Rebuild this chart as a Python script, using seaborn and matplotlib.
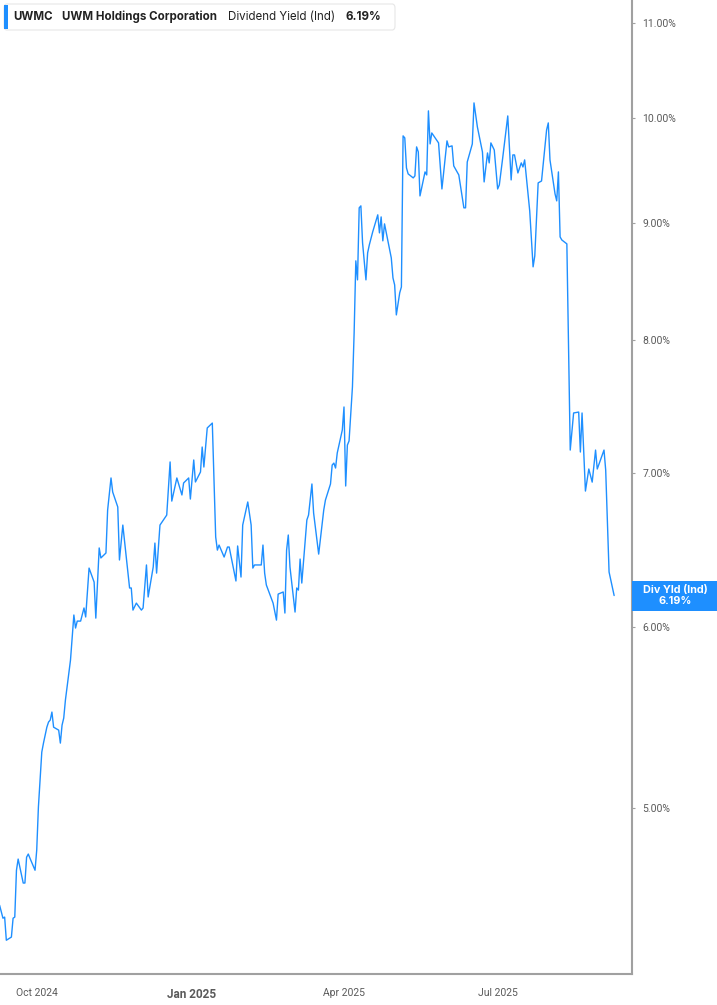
import matplotlib
matplotlib.use("Agg")
import matplotlib.pyplot as plt
import matplotlib.dates as mdates
import matplotlib.transforms as mtransforms
from matplotlib.patches import Rectangle, FancyBboxPatch
from matplotlib.ticker import FixedLocator, NullLocator
import numpy as np
import pandas as pd
import seaborn as sns

ticker = "UWMC"
company = "UWM Holdings Corporation"
metric = "Dividend Yield (Ind)"
short_metric = "Div Yld (Ind)"

dates = [
    "2024-09-09", "2024-09-11", "2024-09-12", "2024-09-13", "2024-09-16", "2024-09-17",
    "2024-09-18", "2024-09-19", "2024-09-20", "2024-09-23", "2024-09-24", "2024-09-25",
    "2024-09-26", "2024-09-27", "2024-09-30", "2024-10-01", "2024-10-02", "2024-10-04",
    "2024-10-05", "2024-10-07", "2024-10-08", "2024-10-09", "2024-10-10", "2024-10-11",
    "2024-10-14", "2024-10-15", "2024-10-16", "2024-10-17", "2024-10-18", "2024-10-21",
    "2024-10-23", "2024-10-24", "2024-10-25", "2024-10-27", "2024-10-29", "2024-10-30",
    "2024-11-01", "2024-11-04", "2024-11-05", "2024-11-07", "2024-11-08", "2024-11-11",
    "2024-11-12", "2024-11-14", "2024-11-15", "2024-11-18", "2024-11-19", "2024-11-21",
    "2024-11-23", "2024-11-25", "2024-11-26", "2024-11-27", "2024-11-29", "2024-12-02",
    "2024-12-03", "2024-12-05", "2024-12-06", "2024-12-09", "2024-12-10", "2024-12-11",
    "2024-12-13", "2024-12-17", "2024-12-19", "2024-12-20", "2024-12-23", "2024-12-26",
    "2024-12-27", "2024-12-30", "2024-12-31", "2025-01-02", "2025-01-03", "2025-01-06",
    "2025-01-07", "2025-01-08", "2025-01-10", "2025-01-13", "2025-01-15", "2025-01-16",
    "2025-01-17", "2025-01-20", "2025-01-22", "2025-01-23", "2025-01-27", "2025-01-28",
    "2025-01-30", "2025-01-31", "2025-02-03", "2025-02-05", "2025-02-06", "2025-02-07",
    "2025-02-11", "2025-02-12", "2025-02-13", "2025-02-14", "2025-02-18", "2025-02-20",
    "2025-02-21", "2025-02-24", "2025-02-25", "2025-02-26", "2025-02-27", "2025-02-28",
    "2025-03-03", "2025-03-04", "2025-03-05", "2025-03-06", "2025-03-07", "2025-03-10",
    "2025-03-11", "2025-03-13", "2025-03-14", "2025-03-17", "2025-03-20", "2025-03-21",
    "2025-03-24", "2025-03-25", "2025-03-26", "2025-03-27", "2025-03-28", "2025-03-31",
    "2025-04-01", "2025-04-02", "2025-04-03", "2025-04-04", "2025-04-06", "2025-04-07",
    "2025-04-08", "2025-04-09", "2025-04-10", "2025-04-11", "2025-04-12", "2025-04-14",
    "2025-04-15", "2025-04-16", "2025-04-18", "2025-04-21", "2025-04-22", "2025-04-23",
    "2025-04-24", "2025-04-25", "2025-04-29", "2025-04-30", "2025-05-01", "2025-05-02",
    "2025-05-04", "2025-05-05", "2025-05-06", "2025-05-07", "2025-05-08", "2025-05-09",
    "2025-05-12", "2025-05-13", "2025-05-14", "2025-05-15", "2025-05-16", "2025-05-18",
    "2025-05-19", "2025-05-20", "2025-05-21", "2025-05-22", "2025-05-23", "2025-05-27",
    "2025-05-29", "2025-06-01", "2025-06-02", "2025-06-04", "2025-06-05", "2025-06-08",
    "2025-06-11", "2025-06-12", "2025-06-13", "2025-06-16", "2025-06-17", "2025-06-19",
    "2025-06-22", "2025-06-23", "2025-06-25", "2025-06-26", "2025-06-27", "2025-06-29",
    "2025-07-01", "2025-07-02", "2025-07-04", "2025-07-07", "2025-07-09", "2025-07-10",
    "2025-07-11", "2025-07-13", "2025-07-15", "2025-07-16", "2025-07-17", "2025-07-20",
    "2025-07-22", "2025-07-23", "2025-07-25", "2025-07-27", "2025-07-30", "2025-07-31",
    "2025-08-01", "2025-08-04", "2025-08-05", "2025-08-06", "2025-08-07", "2025-08-08",
    "2025-08-11", "2025-08-13", "2025-08-15", "2025-08-18", "2025-08-19", "2025-08-20",
    "2025-08-22", "2025-08-24", "2025-08-26", "2025-08-28", "2025-08-29", "2025-09-02",
    "2025-09-03", "2025-09-05", "2025-09-08",
]

div_yield = [
    4.535, 4.476, 4.481, 4.378, 4.392, 4.476,
    4.481, 4.697, 4.750, 4.637, 4.637, 4.759,
    4.774, 4.754, 4.697, 4.793, 5.005, 5.289,
    5.337, 5.423, 5.451, 5.462, 5.506, 5.423,
    5.407, 5.337, 5.434, 5.473, 5.573, 5.801,
    6.070, 5.991, 6.033, 6.033, 6.113, 6.058,
    6.363, 6.274, 6.051, 6.493, 6.428, 6.460,
    6.745, 6.966, 6.868, 6.766, 6.415, 6.644,
    6.434, 6.237, 6.237, 6.100, 6.143, 6.100,
    6.113, 6.383, 6.181, 6.370, 6.525, 6.331,
    6.644, 6.711, 7.079, 6.806, 6.966, 6.848,
    6.931, 6.966, 6.820, 7.093, 6.938, 7.008,
    7.186, 7.043, 7.325, 7.361, 6.565, 6.479,
    6.512, 6.434, 6.499, 6.499, 6.281, 6.506,
    6.306, 6.644, 6.800, 6.644, 6.363, 6.383,
    6.383, 6.512, 6.331, 6.256, 6.143, 6.039,
    6.199, 6.212, 6.082, 6.479, 6.578, 6.370,
    6.088, 6.237, 6.224, 6.421, 6.268, 6.678,
    6.711, 6.924, 6.725, 6.453, 6.745, 6.813,
    6.924, 7.057, 7.071, 7.036, 7.143, 7.310,
    7.481, 6.910, 7.200, 7.230, 7.633, 8.059,
    8.664, 8.500, 9.138, 9.156, 8.822, 8.500,
    8.734, 8.804, 8.920, 9.074, 8.911, 9.055,
    8.840, 8.992, 8.690, 8.517, 8.457, 8.206,
    8.390, 8.440, 9.823, 9.803, 9.512, 9.455,
    9.417, 9.436, 9.715, 9.666, 9.248, 9.398,
    9.474, 9.445, 10.073, 9.744, 9.852, 9.754,
    9.313, 9.774, 9.715, 9.725, 9.531, 9.445,
    9.138, 9.138, 9.569, 9.744, 10.154, 9.912,
    9.666, 9.379, 9.656, 9.560, 9.754, 9.685,
    9.313, 9.351, 9.608, 10.022, 9.398, 9.637,
    9.637, 9.464, 9.560, 9.521, 9.589, 9.110,
    8.612, 8.707, 9.370, 9.388, 9.882, 9.952,
    9.589, 9.267, 9.202, 9.474, 8.875, 8.848,
    8.813, 7.164, 7.436, 7.443, 7.150, 7.436,
    6.875, 7.029, 6.937, 7.164, 7.029, 7.164,
    7.022, 6.338, 6.19,
]

y_ticks = [5, 6, 7, 8, 9, 10, 11]
x_ticks = ["2024-10-01", "2025-01-01", "2025-04-01", "2025-07-01"]
x_tick_labels = ["Oct 2024", "Jan 2025", "Apr 2025", "Jul 2025"]

LINE_BLUE = "#1e8fff"
AXIS_GREY = "#a0a0a0"
TEXT_GREY = "#5a5a5a"

df = pd.DataFrame({"date": pd.to_datetime(dates), "yield": div_yield})

sns.set_style("white")
plt.rcParams["font.family"] = ["Roboto", "DejaVu Sans"]

W, H = 717, 1005
fig = plt.figure(figsize=(W / 100, H / 100), dpi=100)
ax = fig.add_axes([0, 31 / H, 632 / W, 974 / H])

sns.lineplot(data=df, x="date", y="yield", ax=ax, color=LINE_BLUE,
             linewidth=1.0, estimator=None)

ax.set_yscale("log")
ax.set_ylim(4.232, 11.26)
ax.set_xlim(pd.Timestamp("2024-09-09 06:00"), pd.Timestamp("2025-09-18 14:00"))

ax.yaxis.set_major_locator(FixedLocator(y_ticks))
ax.yaxis.set_minor_locator(NullLocator())
ax.set_yticklabels([f"{t:.2f}%" for t in y_ticks])
ax.yaxis.tick_right()
ax.tick_params(axis="y", which="major", length=2.5, width=0.8, color=AXIS_GREY,
               labelsize=7.5, labelcolor=TEXT_GREY, pad=5)

ax.xaxis.set_major_locator(FixedLocator(mdates.date2num(pd.to_datetime(x_ticks))))
ax.xaxis.set_minor_locator(NullLocator())
ax.set_xticklabels(x_tick_labels)
ax.tick_params(axis="x", length=4, width=0.8, color=AXIS_GREY,
               labelsize=7.5, labelcolor=TEXT_GREY, pad=6)
for lab in ax.get_xticklabels():
    if lab.get_text().startswith("Jan"):
        lab.set_fontweight("bold")
        lab.set_fontsize(8.5)

ax.set_xlabel("")
ax.set_ylabel("")
for side in ["top", "left"]:
    ax.spines[side].set_visible(False)
for side in ["bottom", "right"]:
    ax.spines[side].set_color(AXIS_GREY)
    ax.spines[side].set_linewidth(1.5)

# header legend box
fig.add_artist(FancyBboxPatch((4 / W, 1 - 30 / H), 391 / W, 26 / H,
                              boxstyle="round,pad=0,rounding_size=0.004",
                              transform=fig.transFigure, facecolor="white",
                              edgecolor="#e6e6e6", linewidth=0.8))
fig.add_artist(Rectangle((4 / W, 1 - 29 / H), 3.5 / W, 24 / H,
                         transform=fig.transFigure, facecolor=LINE_BLUE,
                         edgecolor="none"))
header_y = 1 - 17 / H
header_parts = [(13, ticker, "bold"), (62, company, "bold"),
                (228, metric, "normal"), (345, f"{div_yield[-1]:.2f}%", "bold")]
for px, txt, weight in header_parts:
    fig.text(px / W, header_y, txt, fontsize=8.3, fontweight=weight,
             family=["Inter", "DejaVu Sans"],
             color="#222222", ha="left", va="center")

# last value label on the right axis
last = div_yield[-1]
trans = mtransforms.blended_transform_factory(fig.transFigure, ax.transData)
half = np.exp(15 / 995)
fig.add_artist(Rectangle((632 / W, last / half), 85 / W, last * half - last / half,
                         transform=trans, facecolor=LINE_BLUE, edgecolor="none",
                         clip_on=False))
fig.text(675 / W, last, f"{short_metric}\n{last:.2f}%", transform=trans,
         ha="center", va="center", color="white", fontsize=7.8,
         family=["Inter", "DejaVu Sans"],
         fontweight="bold", linespacing=1.05)

fig.savefig("out.png", dpi=100)
